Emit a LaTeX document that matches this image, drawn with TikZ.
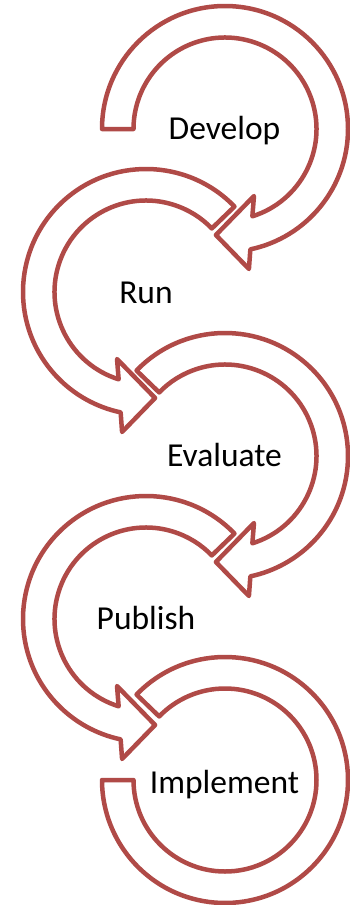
\documentclass[tikz,border=0pt]{standalone}
\usepackage{fontspec}
\setmainfont{Carlito}
\usetikzlibrary{positioning}
\definecolor{ringred}{RGB}{176,74,71}
\tikzset{
  band/.style = {draw=ringred, fill=white, line width=4.5pt, line join=round},
  stagetext/.style = {font=\fontsize{33.5}{40}\selectfont, anchor=base,
      inner sep=0pt},
  % ring arrow turning clockwise, tail at angle #1
  pics/cyclearrow/.style = {code = {
      \draw[band] (#1:123) arc[start angle=#1, end angle=-78.1, radius=123]
      -- (-80.3:142) -- (-94.9:106.4) -- (-66.6:73) -- (-72.6:91.5)
      arc[start angle=-72.6, end angle=#1, radius=91.5] -- cycle;
    }},
}
\begin{document}
\begin{tikzpicture}[x=1pt, y=1pt]
  \useasboundingbox (0,0) rectangle (350,-905);
  % centres of the five rings
  \coordinate (c1) at (225,-129);
  \coordinate (c2) at (146,-292);
  \coordinate (c3) at (225,-456);
  \coordinate (c4) at (146,-619);
  \coordinate (c5) at (225,-780);

  \pic at (c1) {cyclearrow=180};
  \pic[xscale=-1] at (c2) {cyclearrow=136};
  \pic at (c3) {cyclearrow=136};
  \pic[xscale=-1] at (c4) {cyclearrow=136};
  \draw[band, shift={(c5)}]
  (136:123) arc[start angle=136, end angle=-180, radius=123]
  -- (180:91.5) arc[start angle=-180, end angle=136, radius=91.5] -- cycle;

  \node[stagetext] (develop) at (224.5,-139) {Develop};
  \node[stagetext] (run) at (146,-303) {Run};
  \node[stagetext] (evaluate) at (224.5,-466) {Evaluate};
  \node[stagetext] (publish) at (146,-629) {Publish};
  \node[stagetext] (implement) at (224.5,-793) {Implement};
\end{tikzpicture}
\end{document}
